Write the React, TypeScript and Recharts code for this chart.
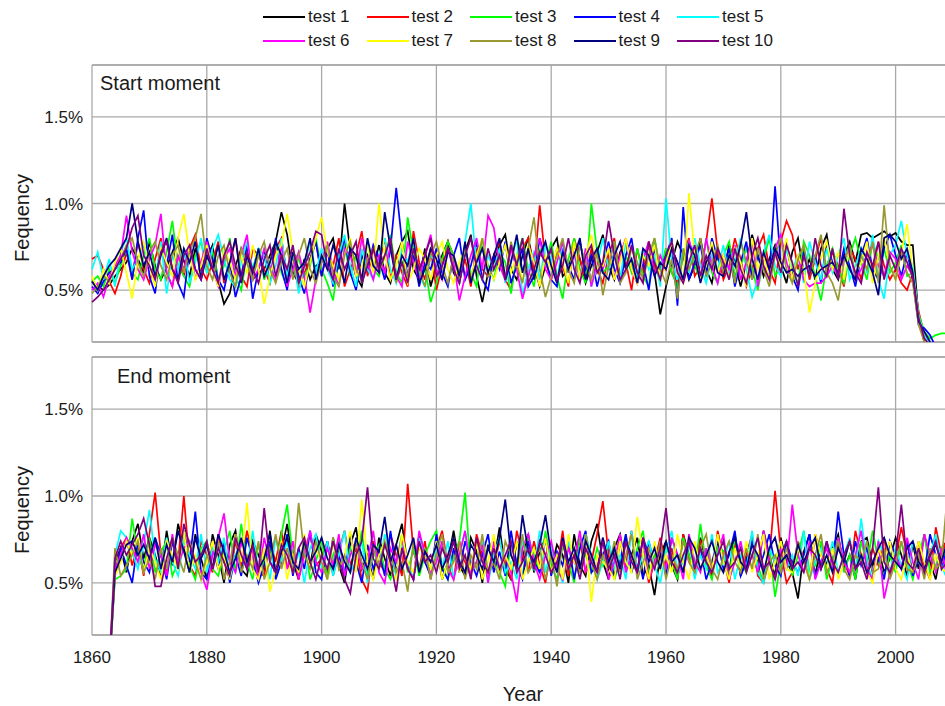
import React from "react";
import { LineChart, Line, XAxis, YAxis, CartesianGrid, ReferenceLine } from "recharts";

// Years 1860..2009
const YEARS: number[] = Array.from({ length: 150 }, (_, i) => 1860 + i);
const X_TICKS = [1860, 1880, 1900, 1920, 1940, 1960, 1980, 2000];
const Y_TICKS = [50, 100, 150]; // hundredths of a percent
const SERIES_NAMES = ["test 1", "test 2", "test 3", "test 4", "test 5", "test 6", "test 7", "test 8", "test 9", "test 10"];
const SERIES_COLORS = ["#000000", "#ff0000", "#00ff00", "#0000ff", "#00ffff", "#ff00ff", "#ffff00", "#999933", "#000080", "#800080"];

// ---- Start moment (values in hundredths of a percent) ----
const start1 = [55,52,50,53,58,62,66,74,68,60,78,64,56,63,72,80,67,58,74,62,68,76,55,42,48,64,74,66,56,60,62,70,78,95,82,60,54,68,56,64,66,74,80,62,100,72,58,52,70,62,76,60,54,70,78,84,62,56,74,52,64,70,78,60,54,72,82,58,43,60,66,76,82,62,56,70,80,64,52,64,74,80,58,62,76,68,54,64,72,82,64,56,72,78,62,54,66,76,60,36,52,66,78,70,56,64,80,62,54,72,60,76,66,52,66,82,70,58,68,76,64,54,72,80,60,68,56,74,82,62,56,70,78,66,82,83,80,82,84,81,83,78,76,76,34,20,16,14,12,10];
const start2 = [68,70,62,55,48,58,72,56,78,62,54,68,80,60,52,70,58,74,82,62,56,66,78,54,64,80,58,52,74,70,62,54,74,80,58,70,50,60,68,78,58,72,64,80,52,62,70,84,58,74,64,80,56,70,60,52,84,66,56,74,50,64,78,70,56,68,52,74,62,58,70,78,56,50,68,74,80,60,99,66,56,74,64,52,80,68,56,74,62,54,70,80,58,66,50,74,60,78,64,56,74,60,54,70,80,58,64,78,103,72,56,64,80,68,52,62,74,82,62,54,78,90,82,62,74,56,68,80,60,72,64,52,74,68,56,72,60,78,64,56,62,54,50,60,38,24,18,15,13,12];
const start3 = [55,58,52,62,54,64,74,60,56,70,80,62,56,72,90,64,58,52,70,78,60,72,56,64,80,58,50,70,62,74,56,66,78,60,52,72,68,58,64,80,62,54,44,68,76,58,70,54,78,62,58,70,82,60,54,92,72,56,64,43,54,68,78,70,58,74,60,52,80,64,56,72,66,48,70,80,62,52,74,64,78,58,45,68,80,62,54,100,72,60,64,78,56,70,60,74,58,52,80,62,74,60,52,70,78,64,56,80,60,54,70,78,58,64,74,62,50,68,80,58,64,74,60,54,78,70,58,44,64,74,62,54,70,80,66,56,78,68,74,60,66,76,58,60,36,26,22,24,25,25];
const start4 = [52,48,55,60,62,66,74,56,80,96,58,48,76,64,82,54,46,74,62,56,80,68,56,50,66,46,58,76,45,62,72,54,80,62,50,74,58,48,68,78,58,74,52,66,80,60,50,70,62,76,68,56,74,109,78,58,70,52,66,62,74,60,52,70,80,56,64,78,56,50,70,62,78,54,64,74,52,58,80,68,56,52,74,64,56,78,62,70,52,66,78,62,54,70,80,58,66,50,74,62,70,80,41,98,56,66,76,58,80,68,62,74,52,66,78,56,70,62,58,110,64,78,58,50,72,62,70,54,78,66,58,74,64,52,70,80,62,56,74,82,70,58,72,56,30,28,24,17,15,13];
const start5 = [62,72,56,68,52,72,80,62,68,76,64,56,78,48,70,62,74,54,66,80,60,74,82,68,56,52,66,78,62,74,70,54,64,80,58,74,48,64,78,60,74,62,54,70,82,64,52,74,62,56,70,80,62,54,74,66,80,58,52,70,66,56,74,62,54,78,100,64,56,70,62,74,54,66,80,47,62,72,56,76,68,54,78,62,70,56,74,52,64,80,62,70,56,78,66,58,74,62,70,52,103,66,56,74,60,80,64,54,70,62,76,58,66,80,62,46,56,72,82,64,58,74,62,70,54,78,66,56,74,60,70,80,56,64,74,60,82,56,45,70,76,90,70,64,35,24,18,15,13,11];
const start6 = [50,54,46,58,64,70,93,72,62,56,68,76,94,60,52,70,62,76,56,66,78,62,52,68,74,58,70,82,56,62,74,64,56,76,52,62,72,58,37,56,66,78,62,52,74,70,58,80,66,56,70,60,76,58,52,78,66,56,70,82,62,56,74,66,44,58,70,80,62,93,86,64,56,74,62,45,58,70,80,62,56,66,78,60,72,56,74,52,66,62,74,56,70,80,62,54,68,78,58,70,62,74,66,54,78,70,56,80,64,54,70,62,76,56,66,80,52,70,62,74,82,66,56,70,56,52,54,54,58,64,58,68,74,56,62,70,76,64,58,72,68,56,64,58,32,22,17,14,12,10];
const start7 = [58,50,62,54,66,74,60,45,68,78,64,52,74,66,58,80,94,70,56,64,76,62,52,74,66,56,70,60,76,62,42,58,70,76,94,72,62,52,66,80,92,72,64,56,70,80,58,64,76,60,100,70,56,64,78,54,62,74,68,56,70,78,62,54,66,74,56,70,80,62,56,66,76,60,70,54,76,66,52,70,62,74,66,54,78,56,70,82,62,64,74,56,66,80,62,54,70,64,76,56,64,78,60,54,106,70,56,64,78,60,70,56,74,66,52,80,62,70,56,74,64,80,56,70,62,37,54,68,78,62,72,56,74,60,66,78,54,70,80,64,56,72,88,60,33,22,17,15,12,11];
const start8 = [48,52,58,55,62,68,76,80,66,58,72,78,64,56,70,76,60,72,80,94,64,56,70,76,60,52,74,66,56,70,78,62,54,66,74,56,70,80,62,54,66,76,58,52,70,78,62,56,68,74,60,70,80,54,66,58,74,62,52,70,78,64,54,70,60,76,56,66,80,58,62,70,56,78,64,54,74,92,62,46,58,70,80,62,54,76,66,56,72,47,64,78,54,60,74,66,56,70,80,62,54,68,45,74,62,70,80,58,66,76,60,70,54,78,66,56,74,62,52,70,80,62,54,68,76,58,70,82,60,54,44,66,76,58,70,62,78,54,99,64,56,72,60,54,30,20,16,14,12,11];
const start9 = [55,50,58,64,68,74,80,100,78,64,72,58,70,80,62,56,74,66,78,56,70,62,76,56,66,80,54,70,60,74,58,66,78,70,54,72,62,66,80,56,70,62,76,66,54,74,70,56,80,64,60,95,74,56,70,64,80,54,62,74,68,56,72,70,58,78,54,66,74,60,70,80,56,66,82,60,74,56,70,78,64,54,72,62,70,80,56,68,74,60,56,70,78,62,68,54,74,70,58,66,62,74,66,56,76,70,54,66,74,60,58,70,64,76,95,68,56,72,62,74,66,60,62,58,62,64,58,62,64,66,60,70,62,56,74,68,60,47,80,82,78,68,74,60,32,26,20,16,14,12];
const start10 = [43,46,50,56,62,68,74,86,93,70,64,56,72,78,62,54,70,76,62,56,74,62,54,70,78,64,56,72,62,54,68,76,58,70,62,76,54,64,72,84,82,64,56,74,62,70,78,54,64,74,62,70,80,56,66,54,74,62,70,80,58,64,74,62,54,70,80,64,56,74,62,70,56,76,64,80,54,62,72,66,74,56,64,80,62,54,70,76,60,66,90,70,56,62,76,60,54,78,66,56,70,78,60,54,66,76,58,70,62,74,66,56,74,62,54,70,80,64,56,72,60,76,66,52,70,58,80,64,58,74,56,97,70,60,54,72,64,78,56,70,62,74,66,58,34,22,18,15,13,11];

// ---- End moment (values in hundredths of a percent) ----
const end1 = [null,null,null,0,62,70,56,74,84,64,76,66,54,80,60,84,70,56,78,64,52,78,66,50,72,80,58,54,74,66,58,80,54,68,84,62,52,74,60,78,68,54,76,60,50,72,82,58,66,52,76,64,54,72,84,60,52,78,66,56,74,52,62,80,60,54,76,68,50,72,62,82,58,52,74,64,78,56,68,76,58,72,66,50,78,60,54,74,84,62,52,70,78,58,66,76,54,60,43,66,74,60,52,78,66,56,76,62,54,72,68,56,78,54,64,74,60,80,66,54,76,62,56,41,68,78,54,72,60,70,78,58,66,52,74,76,60,70,56,64,76,66,54,72,58,78,62,52,70,74];
const end2 = [null,null,null,0,56,70,76,60,72,54,78,102,66,56,76,62,100,60,54,74,66,56,78,62,52,74,60,80,66,56,54,74,62,80,58,68,52,70,78,60,64,74,54,68,80,60,70,52,45,74,62,56,78,66,54,107,68,58,74,52,70,80,60,52,74,62,54,78,66,56,60,74,62,52,80,66,56,74,60,50,70,58,80,54,66,74,56,62,78,97,66,52,74,60,80,56,68,50,62,76,60,70,52,78,62,56,74,66,52,80,64,50,74,58,66,78,54,50,64,103,68,50,56,74,64,52,78,66,58,50,74,62,54,80,66,56,70,60,76,54,64,82,66,56,74,60,52,82,66,76];
const end3 = [null,null,null,0,52,54,58,87,66,58,76,56,68,74,54,62,80,60,52,70,74,58,54,68,80,56,84,62,52,72,60,70,54,78,95,64,56,74,52,62,76,52,66,74,56,70,60,80,54,66,72,58,52,62,78,56,70,54,66,74,80,60,52,66,74,102,56,62,72,52,66,56,48,74,62,54,76,66,56,80,60,52,72,62,50,76,66,56,70,60,74,52,62,78,56,70,80,54,66,58,72,62,52,76,66,56,84,60,52,72,68,54,76,62,56,74,60,50,70,42,62,74,54,66,80,56,60,74,52,64,76,56,66,52,74,60,80,62,54,66,56,74,62,52,66,78,56,60,70,62];
const end4 = [null,null,null,0,54,70,60,50,74,62,56,76,66,52,74,60,80,62,91,56,52,70,58,74,50,66,54,76,64,50,60,74,52,62,78,54,70,58,80,56,52,74,58,66,54,78,62,50,72,58,68,54,80,56,70,60,52,74,62,54,78,58,52,70,56,74,62,54,66,78,56,68,54,80,60,52,74,62,56,76,54,68,60,74,52,70,80,56,60,66,74,54,62,78,56,68,52,74,60,70,54,76,66,56,74,58,70,52,62,74,58,66,80,54,62,74,56,66,78,60,54,74,62,56,66,78,54,62,74,58,91,66,54,74,60,70,56,64,52,74,66,58,74,54,64,56,78,66,58,70];
const end5 = [null,null,null,0,66,80,76,68,58,72,92,64,56,76,62,54,74,66,58,78,56,70,62,76,52,66,74,58,80,56,66,52,76,62,74,56,68,50,70,78,58,74,54,66,80,56,62,74,50,70,58,78,66,54,74,62,52,76,66,56,70,58,74,52,66,80,56,62,74,50,66,76,56,62,52,74,66,58,80,56,70,60,50,74,62,56,78,66,52,62,74,58,66,52,80,56,66,74,60,50,68,80,56,62,74,52,66,58,78,56,62,74,52,66,58,80,56,50,70,62,74,58,66,54,80,52,62,70,58,74,56,66,76,58,87,62,52,74,66,56,70,60,52,74,62,56,66,78,60,52];
const end6 = [null,null,null,0,58,66,76,70,62,78,58,72,66,54,78,60,70,74,62,56,46,66,76,90,62,56,74,58,68,52,76,62,56,70,58,74,52,66,80,62,56,70,60,78,54,66,74,58,62,80,56,50,70,62,76,58,52,80,66,56,62,74,58,52,66,80,56,62,72,50,74,58,66,56,39,70,78,62,52,66,74,58,52,70,62,80,56,66,58,76,52,62,78,56,66,58,74,52,62,70,58,76,66,52,78,62,56,70,58,66,78,52,62,74,58,66,56,80,62,52,70,58,95,66,56,74,52,62,70,58,76,62,56,66,80,58,52,74,41,56,66,58,76,62,52,78,66,56,70,52];
const end7 = [null,null,null,0,54,62,74,66,76,56,70,62,52,74,66,58,80,56,66,52,62,74,58,66,52,78,62,96,58,52,70,45,58,74,52,66,56,78,58,70,62,52,74,58,66,80,56,98,62,52,66,74,58,52,78,62,56,70,66,58,74,52,62,76,56,66,58,74,52,62,78,56,66,58,74,52,62,70,58,76,56,66,52,78,62,58,74,39,66,62,58,52,74,62,56,88,66,52,74,58,66,56,78,62,52,74,58,66,56,78,62,52,70,58,74,56,66,78,52,62,74,58,56,70,62,52,78,66,58,70,52,62,74,58,66,56,50,70,62,74,58,52,66,56,74,62,52,66,58,56];
const end8 = [null,null,null,0,70,54,60,66,74,56,64,52,70,58,76,66,56,74,62,52,66,58,74,52,62,78,56,66,58,74,52,62,78,58,70,56,96,66,58,74,62,52,76,58,66,56,74,62,52,70,58,74,66,56,62,45,74,58,70,52,66,78,56,62,74,52,66,58,78,56,62,52,74,66,58,78,56,62,70,52,66,48,74,58,66,56,78,62,52,66,58,74,56,66,78,52,62,70,58,74,52,66,58,74,62,56,70,78,58,52,66,74,62,56,70,58,78,52,62,66,56,70,58,74,62,52,66,78,56,62,74,58,52,66,62,74,56,58,70,52,62,74,58,56,66,52,70,58,62,100];
const end9 = [null,null,null,0,56,64,72,74,66,72,64,76,58,72,62,80,68,56,76,64,72,58,78,68,56,64,76,62,72,58,64,78,56,68,76,62,58,74,62,68,76,64,58,72,62,56,76,66,58,72,68,88,62,72,58,66,76,56,68,62,72,58,66,76,62,56,72,66,58,70,62,76,98,66,58,89,68,62,72,89,66,56,76,62,70,58,74,66,56,76,62,70,58,74,66,56,76,62,70,58,74,62,66,56,76,70,58,66,74,62,56,68,76,62,58,72,66,56,70,76,62,66,58,72,62,70,76,58,66,56,70,62,74,58,66,56,62,70,76,66,62,58,70,74,62,58,66,72,62,74];
const end10 = [null,null,null,0,64,74,66,72,78,87,72,48,48,64,76,58,84,72,62,66,74,58,70,62,54,76,66,58,72,56,93,62,56,72,66,56,70,76,62,52,66,58,74,62,52,44,66,74,105,64,58,72,62,45,70,58,52,74,62,66,56,70,62,74,58,66,52,76,62,56,70,58,66,74,56,62,70,58,74,66,56,62,74,58,66,52,70,62,56,74,58,66,52,74,62,56,76,66,58,70,93,62,56,66,74,58,70,62,56,66,74,58,62,70,56,66,76,58,62,52,66,74,58,62,56,70,66,58,74,62,56,66,74,58,62,52,70,105,62,56,66,95,62,58,70,56,66,74,58,62];

const START_SERIES = [start1, start2, start3, start4, start5, start6, start7, start8, start9, start10];
const END_SERIES = [end1, end2, end3, end4, end5, end6, end7, end8, end9, end10];

function buildRows(series: (number | null)[][]) {
  return YEARS.map((year, i) => {
    const row: Record<string, number | null> = { year };
    series.forEach((s, k) => {
      row["s" + k] = s[i];
    });
    return row;
  });
}

const startRows = buildRows(START_SERIES);
const endRows = buildRows(END_SERIES);

const FONT = "'Liberation Sans', Arial, Helvetica, sans-serif";
const TEXT = "#1a1a1a";
const GRID = "#a9a9a9";

const fmtY = (v: number) => `${(v / 100).toFixed(1)}%`;

function Panel({ rows, showX, height, margin }: { rows: any[]; showX: boolean; height: number; margin: any }) {
  return (
    <LineChart width={1000} height={height} data={rows} margin={margin}>
      <CartesianGrid stroke={GRID} strokeWidth={1.3} />
      <XAxis
        dataKey="year"
        type="number"
        domain={[1860, 2010]}
        ticks={X_TICKS}
        hide={!showX}
        axisLine={false}
        tickLine={false}
        tickSize={0}
        tickMargin={16}
        height={40}
        tick={{ fontSize: 17, fill: TEXT, fontFamily: FONT }}
        interval={0}
      />
      <YAxis
        type="number"
        domain={[20, 180]}
        allowDataOverflow
        ticks={Y_TICKS}
        tickFormatter={fmtY}
        width={92}
        axisLine={false}
        tickLine={false}
        tickSize={0}
        tickMargin={9}
        tick={{ fontSize: 17, fill: TEXT, fontFamily: FONT }}
        interval={0}
      />
      <ReferenceLine y={180} stroke={GRID} strokeWidth={1.5} />
      <ReferenceLine y={20} stroke={GRID} strokeWidth={1.5} />
      {SERIES_NAMES.map((name, k) => (
        <Line
          key={name}
          name={name}
          dataKey={"s" + k}
          type="linear"
          stroke={SERIES_COLORS[k]}
          strokeWidth={1.7}
          dot={false}
          activeDot={false}
          isAnimationActive={false}
          connectNulls={false}
        />
      ))}
    </LineChart>
  );
}

export default function App() {
  const abs: React.CSSProperties = { position: "absolute" };
  return (
    <div
      style={{
        position: "absolute",
        left: 0,
        top: 0,
        width: 945,
        height: 706,
        overflow: "hidden",
        background: "#fff",
        fontFamily: FONT,
        color: TEXT,
      }}
    >
      {/* Legend */}
      {SERIES_NAMES.map((name, k) => {
        const col = k % 5;
        const row = Math.floor(k / 5);
        const left = 263 + col * 103.5;
        const cy = row === 0 ? 17 : 41;
        return (
          <div key={name} style={{ ...abs, left, top: cy - 12, height: 24, display: "flex", alignItems: "center" }}>
            <div style={{ width: 42, height: 2, background: SERIES_COLORS[k] }} />
            <span style={{ marginLeft: 3, fontSize: 17, lineHeight: "24px", whiteSpace: "nowrap" }}>{name}</span>
          </div>
        );
      })}

      {/* Top panel */}
      <div style={{ ...abs, left: 0, top: 0 }}>
        <Panel rows={startRows} showX={false} height={360} margin={{ top: 65, right: 47, bottom: 18, left: 0 }} />
      </div>
      {/* Bottom panel */}
      <div style={{ ...abs, left: 0, top: 350 }}>
        <Panel rows={endRows} showX={true} height={356} margin={{ top: 7, right: 47, bottom: 31, left: 0 }} />
      </div>

      {/* Panel titles */}
      <div style={{ ...abs, left: 100, top: 71, fontSize: 20, lineHeight: "24px" }}>Start moment</div>
      <div style={{ ...abs, left: 117, top: 364, fontSize: 20, lineHeight: "24px" }}>End moment</div>

      {/* Y axis titles */}
      <div style={{ ...abs, left: 22 - 100, top: 218 - 12, width: 200, textAlign: "center", fontSize: 20, lineHeight: "24px", transform: "rotate(-90deg)" }}>Fequency</div>
      <div style={{ ...abs, left: 22 - 100, top: 510 - 12, width: 200, textAlign: "center", fontSize: 20, lineHeight: "24px", transform: "rotate(-90deg)" }}>Fequency</div>

      {/* X axis title */}
      <div style={{ ...abs, left: 423, top: 682, width: 200, textAlign: "center", fontSize: 20, lineHeight: "24px" }}>Year</div>
    </div>
  );
}
